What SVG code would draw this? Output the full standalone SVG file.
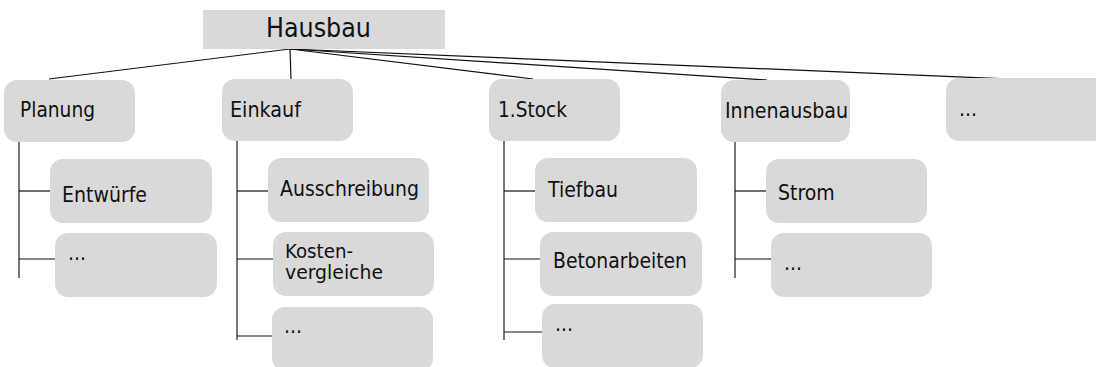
<svg xmlns="http://www.w3.org/2000/svg" width="1096" height="367" viewBox="0 0 1096 367">
<style>
.box{fill:#d9d9d9}
.t{font-family:"DejaVu Sans Condensed","DejaVu Sans",sans-serif;font-stretch:condensed;font-size:21px;fill:#111}
.root{font-size:26.5px}
.two{font-size:19.5px}
.c{stroke:#111;stroke-width:1.2;fill:none}
.v{stroke:#555;stroke-width:1.6;fill:none}
</style>
<rect width="1096" height="367" fill="#fff"/>
<g id="connectors">
<line class="c" x1="290" y1="49" x2="49" y2="79"/>
<line class="c" x1="290" y1="49" x2="291" y2="79"/>
<line class="c" x1="290" y1="49" x2="533" y2="79"/>
<line class="c" x1="290" y1="49" x2="767" y2="80"/>
<line class="c" x1="290" y1="49" x2="1032" y2="80"/>
<line class="v" x1="19" y1="142" x2="19" y2="278"/>
<line class="c" x1="19" y1="191" x2="50" y2="191"/>
<line class="c" x1="19" y1="259" x2="55" y2="259"/>
<line class="v" x1="237" y1="141" x2="237" y2="340"/>
<line class="c" x1="237" y1="191" x2="268" y2="191"/>
<line class="c" x1="237" y1="259" x2="273" y2="259"/>
<line class="c" x1="237" y1="336" x2="272" y2="336"/>
<line class="v" x1="504" y1="141" x2="504" y2="340"/>
<line class="c" x1="504" y1="191" x2="535" y2="191"/>
<line class="c" x1="504" y1="259" x2="540" y2="259"/>
<line class="c" x1="504" y1="332" x2="542" y2="332"/>
<line class="v" x1="735" y1="142" x2="735" y2="278"/>
<line class="c" x1="735" y1="191" x2="766" y2="191"/>
<line class="c" x1="735" y1="259" x2="771" y2="259"/>
</g>
<g id="hausbau">
<rect class="box" x="203" y="10" width="242" height="39"/>
<text class="t root" x="266" y="37" textLength="105" lengthAdjust="spacingAndGlyphs">Hausbau</text>
</g>
<g id="planung">
<rect class="box" x="4" y="80" width="131" height="62" rx="13"/>
<text class="t" x="20" y="117" textLength="75" lengthAdjust="spacingAndGlyphs">Planung</text>
</g>
<g id="entwuerfe">
<rect class="box" x="50" y="159" width="162" height="64" rx="13"/>
<text class="t" x="62" y="202" textLength="85" lengthAdjust="spacingAndGlyphs">Entwürfe</text>
</g>
<g id="planung-more">
<rect class="box" x="55" y="233" width="162" height="64" rx="13"/>
<text class="t" x="68" y="260">...</text>
</g>
<g id="einkauf">
<rect class="box" x="222" y="79" width="131" height="62" rx="13"/>
<text class="t" x="230" y="117" textLength="71" lengthAdjust="spacingAndGlyphs">Einkauf</text>
</g>
<g id="ausschreibung">
<rect class="box" x="268" y="158" width="161" height="64" rx="13"/>
<text class="t" x="280" y="196" textLength="139" lengthAdjust="spacingAndGlyphs">Ausschreibung</text>
</g>
<g id="kostenvergleiche">
<rect class="box" x="273" y="232" width="161" height="64" rx="13"/>
<text class="t two" x="285" y="258" textLength="68" lengthAdjust="spacingAndGlyphs">Kosten-</text>
<text class="t two" x="285" y="279" textLength="98" lengthAdjust="spacingAndGlyphs">vergleiche</text>
</g>
<g id="einkauf-more">
<rect class="box" x="272" y="307" width="161" height="64" rx="13"/>
<text class="t" x="284" y="333">...</text>
</g>
<g id="stock">
<rect class="box" x="489" y="79" width="131" height="62" rx="13"/>
<text class="t" x="498" y="117" textLength="69" lengthAdjust="spacingAndGlyphs">1.Stock</text>
</g>
<g id="tiefbau">
<rect class="box" x="535" y="158" width="162" height="64" rx="13"/>
<text class="t" x="548" y="197">Tiefbau</text>
</g>
<g id="betonarbeiten">
<rect class="box" x="540" y="232" width="162" height="64" rx="13"/>
<text class="t" x="553" y="268" textLength="134" lengthAdjust="spacingAndGlyphs">Betonarbeiten</text>
</g>
<g id="stock-more">
<rect class="box" x="542" y="304" width="161" height="64" rx="13"/>
<text class="t" x="555" y="331">...</text>
</g>
<g id="innenausbau">
<rect class="box" x="721" y="80" width="129" height="62" rx="13"/>
<text class="t" x="725" y="118" textLength="123" lengthAdjust="spacingAndGlyphs">Innenausbau</text>
</g>
<g id="strom">
<rect class="box" x="766" y="159" width="161" height="64" rx="13"/>
<text class="t" x="778" y="200">Strom</text>
</g>
<g id="innenausbau-more">
<rect class="box" x="771" y="233" width="161" height="64" rx="13"/>
<text class="t" x="784" y="270">...</text>
</g>
<g id="more">
<rect class="box" x="946" y="78" width="160" height="63" rx="13"/>
<text class="t" x="959" y="116">...</text>
</g>
</svg>
